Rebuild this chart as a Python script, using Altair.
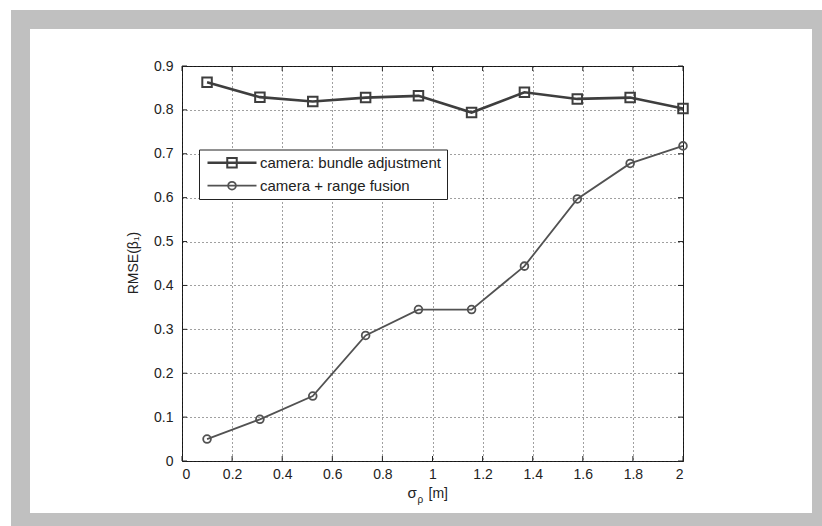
import altair as alt
import pandas as pd

# ---- data ----
sigma = [0.1, 0.311, 0.522, 0.733, 0.944, 1.156, 1.367, 1.578, 1.789, 2.0]
bundle = [0.863, 0.829, 0.819, 0.828, 0.832, 0.794, 0.840, 0.825, 0.828, 0.803]
fusion = [0.050, 0.095, 0.148, 0.286, 0.345, 0.345, 0.444, 0.597, 0.678, 0.718]
series_names = ["camera: bundle adjustment", "camera + range fusion"]
x_ticks = [0, 0.2, 0.4, 0.6, 0.8, 1.0, 1.2, 1.4, 1.6, 1.8, 2.0]
y_ticks = [0, 0.1, 0.2, 0.3, 0.4, 0.5, 0.6, 0.7, 0.8, 0.9]

W, H = 501, 395
FONT = "Liberation Sans"
C1 = "#3e3e3e"
C2 = "#525252"

df1 = pd.DataFrame({"x": sigma, "y": bundle})
df2 = pd.DataFrame({"x": sigma, "y": fusion})
one = pd.DataFrame({"a": [0]})
xt = pd.DataFrame({"v": x_ticks})
yt = pd.DataFrame({"v": y_ticks})

xscale = alt.Scale(domain=[0, 2], nice=False, zero=False)
yscale = alt.Scale(domain=[0, 0.9], nice=False, zero=False)

common_axis = dict(
    grid=True, gridDash=[1, 3], gridColor="#000000", gridOpacity=0.75, gridWidth=1,
    domain=False, ticks=False, labelFont=FONT, labelFontSize=14, labelColor="#222222",
    title=None, format="~g",
)
xaxis = alt.Axis(values=x_ticks, labelPadding=6, **common_axis)
yaxis = alt.Axis(values=y_ticks, labelPadding=9, **common_axis)

# decorative gray frame around the figure
def band(x, x2, y, y2):
    return alt.Chart(one).mark_rect(color="#c0c0c0").encode(
        x=alt.value(x), x2=alt.value(x2), y=alt.value(y), y2=alt.value(y2))

frame = [
    band(-171, 640, -56, -37),
    band(-171, 640, 447, 460),
    band(-171, -152, -56, 460),
    band(630, 640, -56, 460),
]

# axes and grid via an invisible base layer
base = alt.Chart(df1).mark_point(opacity=0).encode(
    x=alt.X("x:Q", scale=xscale, axis=xaxis),
    y=alt.Y("y:Q", scale=yscale, axis=yaxis),
)

# inward ticks on all four sides
tk = dict(color="#222222", strokeWidth=1)
tick_b = alt.Chart(xt).mark_rule(**tk).encode(
    x=alt.X("v:Q", scale=xscale), y=alt.value(H), y2=alt.value(H - 5))
tick_t = alt.Chart(xt).mark_rule(**tk).encode(
    x=alt.X("v:Q", scale=xscale), y=alt.value(0), y2=alt.value(5))
tick_l = alt.Chart(yt).mark_rule(**tk).encode(
    y=alt.Y("v:Q", scale=yscale), x=alt.value(0), x2=alt.value(5))
tick_r = alt.Chart(yt).mark_rule(**tk).encode(
    y=alt.Y("v:Q", scale=yscale), x=alt.value(W), x2=alt.value(W - 5))

enc = dict(x=alt.X("x:Q", scale=xscale), y=alt.Y("y:Q", scale=yscale))
line1 = alt.Chart(df1).mark_line(color=C1, strokeWidth=2.6).encode(**enc)
pts1 = alt.Chart(df1).mark_point(shape="square", filled=False, color=C1,
                                 strokeWidth=2, size=90, opacity=1).encode(**enc)
line2 = alt.Chart(df2).mark_line(color=C2, strokeWidth=1.8).encode(**enc)
pts2 = alt.Chart(df2).mark_point(shape="circle", filled=False, color=C2,
                                 strokeWidth=1.8, size=60, opacity=1).encode(**enc)

# legend box
leg_box = alt.Chart(one).mark_rect(fill="white", stroke="#222222", strokeWidth=1).encode(
    x=alt.value(17.5), x2=alt.value(265.5), y=alt.value(84), y2=alt.value(133.5))
leg_l1 = alt.Chart(one).mark_rule(color=C1, strokeWidth=2.6).encode(
    x=alt.value(25.5), x2=alt.value(74.5), y=alt.value(96.7))
leg_p1 = alt.Chart(one).mark_point(shape="square", filled=False, color=C1,
                                   strokeWidth=2, size=90, opacity=1).encode(
    x=alt.value(50), y=alt.value(96.7))
leg_l2 = alt.Chart(one).mark_rule(color=C2, strokeWidth=1.8).encode(
    x=alt.value(25.5), x2=alt.value(74.5), y=alt.value(119.7))
leg_p2 = alt.Chart(one).mark_point(shape="circle", filled=False, color=C2,
                                   strokeWidth=1.8, size=60, opacity=1).encode(
    x=alt.value(50), y=alt.value(119.7))
txt = dict(font=FONT, fontSize=15, color="#222222", align="left", baseline="middle")
leg_t1 = alt.Chart(one).mark_text(text=series_names[0], **txt).encode(
    x=alt.value(78), y=alt.value(97))
leg_t2 = alt.Chart(one).mark_text(text=series_names[1], **txt).encode(
    x=alt.value(78), y=alt.value(120))

# axis titles
tt = dict(font=FONT, color="#222222", align="left", baseline="alphabetic")
xt1 = alt.Chart(one).mark_text(text="σ", fontSize=15, **tt).encode(
    x=alt.value(225.5), y=alt.value(431.5))
xt2 = alt.Chart(one).mark_text(text="ρ", fontSize=10, **tt).encode(
    x=alt.value(235.5), y=alt.value(437))
xt3 = alt.Chart(one).mark_text(text="[m]", fontSize=14, **tt).encode(
    x=alt.value(246.5), y=alt.value(431.5))
ytitle = alt.Chart(one).mark_text(text="RMSE(β₁)", fontSize=14, angle=270,
                                  font=FONT, color="#222222", align="center",
                                  baseline="alphabetic").encode(
    x=alt.value(-44), y=alt.value(197))

chart = alt.layer(
    *frame, base, line1, pts1, line2, pts2,
    tick_b, tick_t, tick_l, tick_r,
    leg_box, leg_l1, leg_p1, leg_l2, leg_p2, leg_t1, leg_t2,
    xt1, xt2, xt3, ytitle,
).properties(
    width=W, height=H,
    padding={"left": 182, "top": 66, "right": 139, "bottom": 65},
    autosize=alt.AutoSizeParams(type="none"),
    background="white",
).configure_view(stroke="#222222", strokeWidth=1)

chart.save("out.html", embed_options={"renderer": "svg", "actions": False})
